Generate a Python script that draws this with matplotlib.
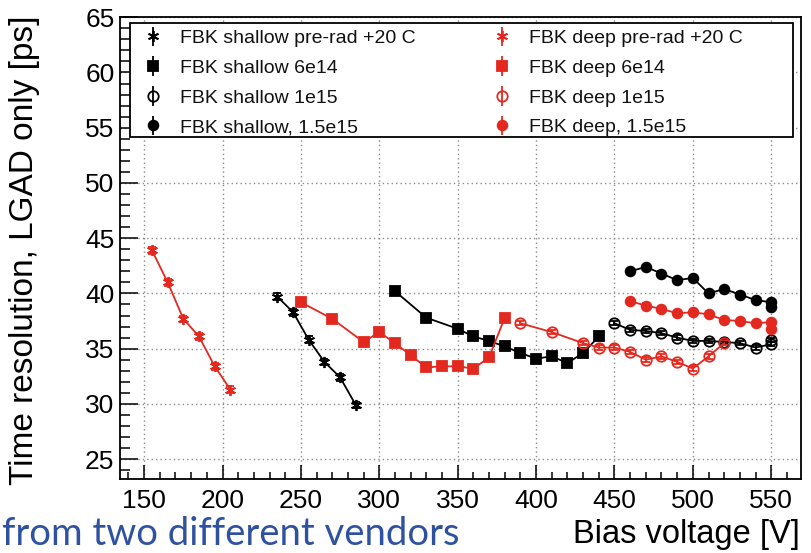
import matplotlib
matplotlib.use("Agg")
import matplotlib.pyplot as plt
from matplotlib.lines import Line2D
from matplotlib.patches import Rectangle
from matplotlib.collections import LineCollection
from matplotlib.container import ErrorbarContainer
from matplotlib.ticker import MultipleLocator

plt.rcParams['font.family'] = ['Liberation Sans', 'DejaVu Sans']

# ---- data: bias voltage [V] and time resolution [ps] ----
shallow_prerad_v = [235, 245, 255, 265, 275, 285]
shallow_prerad_t = [39.7, 38.3, 35.8, 33.8, 32.4, 29.9]
shallow_prerad_err = 0.3

shallow_6e14_v = [310, 330, 350, 360, 370, 380, 390, 400, 410, 420, 430, 440]
shallow_6e14_t = [40.2, 37.8, 36.8, 36.1, 35.7, 35.2, 34.6, 34.1, 34.3, 33.7, 34.6, 36.1]
shallow_6e14_err = 0.25

shallow_1e15_v = [450, 460, 470, 480, 490, 500, 510, 520, 530, 540, 550, 550]
shallow_1e15_t = [37.3, 36.7, 36.6, 36.4, 36.0, 35.7, 35.7, 35.6, 35.5, 35.1, 35.4, 35.8]
shallow_1e15_err = 0.2

shallow_15e15_v = [460, 470, 480, 490, 500, 510, 520, 530, 540, 550, 550]
shallow_15e15_t = [42.0, 42.4, 41.8, 41.2, 41.4, 40.0, 40.4, 39.9, 39.4, 39.2, 38.8]
shallow_15e15_err = 0.2

deep_prerad_v = [155, 165, 175, 185, 195, 205]
deep_prerad_t = [43.9, 41.0, 37.7, 36.1, 33.4, 31.3]
deep_prerad_err = 0.3

deep_6e14_v = [250, 270, 290, 300, 310, 320, 330, 340, 350, 360, 370, 380]
deep_6e14_t = [39.2, 37.7, 35.6, 36.5, 35.5, 34.4, 33.3, 33.4, 33.4, 33.2, 34.2, 37.8]
deep_6e14_err = 0.25

deep_1e15_v = [390, 410, 430, 440, 450, 460, 470, 480, 490, 500, 510, 520]
deep_1e15_t = [37.3, 36.5, 35.5, 35.1, 35.1, 34.7, 34.0, 34.3, 33.8, 33.2, 34.3, 35.5]
deep_1e15_err = 0.2

deep_15e15_v = [460, 470, 480, 490, 500, 510, 520, 530, 540, 550, 550]
deep_15e15_t = [39.3, 38.9, 38.6, 38.2, 38.3, 38.1, 37.6, 37.5, 37.3, 37.4, 36.8]
deep_15e15_err = 0.2

labels_shallow = ["FBK shallow pre-rad +20 C", "FBK shallow 6e14",
                  "FBK shallow 1e15", "FBK shallow, 1.5e15"]
labels_deep = ["FBK deep pre-rad +20 C", "FBK deep 6e14",
               "FBK deep 1e15", "FBK deep, 1.5e15"]

BLACK = "#000000"
RED = "#E3291F"
ASTERISK = (6, 2, 0)

fig = plt.figure(figsize=(8.12, 5.53), dpi=100)
ax = fig.add_axes([120 / 812, 74 / 553, 681 / 812, 462.3 / 553])

series = [
    (shallow_prerad_v, shallow_prerad_t, shallow_prerad_err, BLACK, ASTERISK, 'full', 8),
    (shallow_6e14_v, shallow_6e14_t, shallow_6e14_err, BLACK, 's', 'full', 6.5),
    (shallow_1e15_v, shallow_1e15_t, shallow_1e15_err, BLACK, 'o', 'none', 7.5),
    (shallow_15e15_v, shallow_15e15_t, shallow_15e15_err, BLACK, 'o', 'full', 7),
    (deep_prerad_v, deep_prerad_t, deep_prerad_err, RED, ASTERISK, 'full', 8),
    (deep_6e14_v, deep_6e14_t, deep_6e14_err, RED, 's', 'full', 6.5),
    (deep_1e15_v, deep_1e15_t, deep_1e15_err, RED, 'o', 'none', 7.5),
    (deep_15e15_v, deep_15e15_t, deep_15e15_err, RED, 'o', 'full', 7),
]

handles = []
for v, t, err, col, mk, fill, ms in series:
    mfc = col if fill == 'full' else 'none'
    ax.errorbar(v, t, yerr=err, color=col, marker=mk, mfc=mfc, mec=col,
                mew=1.3, ms=ms, lw=1.3, elinewidth=1.3, capsize=3,
                capthick=1.3, zorder=3)
    mk_line = Line2D([], [], color=col, marker=mk, mfc=mfc, mec=col,
                     mew=1.3, ms=ms, ls='none')
    bar = LineCollection([], colors=col, linewidths=1.3)
    handles.append(ErrorbarContainer((mk_line, (), (bar,)),
                                     has_xerr=False, has_yerr=True))

ax.set_xlim(134.6, 569)
ax.set_ylim(23.2, 65.05)

ax.xaxis.set_major_locator(MultipleLocator(50))
ax.xaxis.set_minor_locator(MultipleLocator(10))
ax.yaxis.set_major_locator(MultipleLocator(5))
ax.yaxis.set_minor_locator(MultipleLocator(1))

ax.tick_params(axis='both', which='both', direction='in', top=False, right=False,
               colors='black', width=1.1)
ax.tick_params(axis='y', which='major', length=13, pad=4, labelsize=19)
ax.tick_params(axis='y', which='minor', length=7)
ax.tick_params(axis='x', which='major', length=10, pad=7, labelsize=19)
ax.tick_params(axis='x', which='minor', length=5)

for sp in ax.spines.values():
    sp.set_linewidth(1.3)
    sp.set_color('black')

ax.set_axisbelow(True)
ax.grid(True, which='major', color='#8c8c8c', linestyle=(0, (1, 2.2)), linewidth=1.0)

# legend box
ax.add_patch(Rectangle((0.0141, 0.740), 0.974, 0.247, transform=ax.transAxes,
                       facecolor='white', edgecolor='black', linewidth=1.3, zorder=4))
leg = ax.legend(handles, labels_shallow + labels_deep, ncol=2, frameon=False,
                loc='upper left', bbox_to_anchor=(0.0342, 0.972), borderpad=0,
                borderaxespad=0, fontsize=14, handlelength=1.0, handletextpad=0.89,
                columnspacing=3.93, labelspacing=0.62)
leg.set_zorder(5)
for txt in leg.get_texts():
    txt.set_color('#111111')

fig.text(25 / 812, (553 - 250) / 553, "Time resolution, LGAD only [ps]",
         rotation=90, ha='center', va='center', fontsize=24)
fig.text(800 / 812, 10 / 553, "Bias voltage [V]", ha='right', va='baseline',
         fontsize=23.5)
fig.text(2 / 812, 1 / 553, "from two different vendors", ha='left', va='bottom',
         fontsize=27.5, color='#2F52A0', family=['Lato', 'DejaVu Sans'])

fig.savefig("out.png", dpi=100)
